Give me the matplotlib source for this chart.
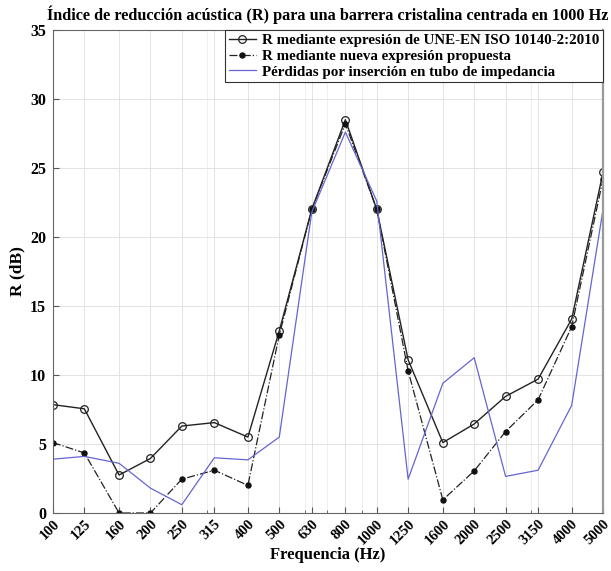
import matplotlib
matplotlib.use("Agg")
import matplotlib.pyplot as plt
from matplotlib.ticker import FixedLocator, LogLocator, NullFormatter

plt.rcParams['font.family'] = ['Liberation Serif', 'DejaVu Serif']
plt.rcParams['font.weight'] = 'bold'

freqs = [100, 125, 160, 200, 250, 315, 400, 500, 630, 800,
         1000, 1250, 1600, 2000, 2500, 3150, 4000, 5000]
freq_labels = [str(f) for f in freqs]

r_iso = [7.85, 7.55, 2.75, 3.95, 6.3, 6.55, 5.5, 13.2, 22.0, 28.5,
         22.0, 11.1, 5.1, 6.45, 8.45, 9.7, 14.05, 24.7]
r_new = [5.1, 4.35, 0.0, 0.0, 2.45, 3.1, 2.0, 12.9, 22.0, 28.2,
         22.0, 10.3, 0.95, 3.05, 5.9, 8.2, 13.5, 24.2]
il_tube = [3.9, 4.1, 3.6, 1.8, 0.6, 4.0, 3.85, 5.5, 21.8, 27.6,
           22.6, 2.45, 9.4, 11.25, 2.65, 3.1, 7.8, 22.0]

labels = ['R mediante expresión de UNE-EN ISO 10140-2:2010',
          'R mediante nueva expresión propuesta',
          'Pérdidas por inserción en tubo de impedancia']

fig = plt.figure(figsize=(6.11, 5.71), dpi=100)
ax = fig.add_axes([0.0867, 0.1016, 0.9003, 0.8459])

ax.plot(freqs, r_iso, '-', color='#222222', lw=1.0, marker='o',
        ms=5.5, mfc='none', mec='#222222', mew=0.9, label=labels[0])
ax.plot(freqs, r_new, '-.', color='#222222', lw=0.9, marker='o',
        ms=3.6, mfc='#111111', mec='#111111', label=labels[1])
ax.plot(freqs, il_tube, '-', color='#6565d2', lw=0.9, label=labels[2])

ax.set_xscale('log')
ax.set_xlim(100, 5000)
ax.set_ylim(0, 35)
ax.xaxis.set_major_locator(FixedLocator(freqs))
ax.set_xticklabels(freq_labels, rotation=45, ha='right', va='top',
                   rotation_mode='anchor', fontsize=10.5, fontweight='bold')
ax.xaxis.set_minor_locator(LogLocator(base=10, subs=range(2, 10)))
ax.xaxis.set_minor_formatter(NullFormatter())
ax.set_yticks(range(0, 36, 5))
for t in ax.get_yticklabels():
    t.set_fontsize(11.5)
    t.set_fontweight('bold')

ax.tick_params(axis='both', which='both', direction='in', color='#555555')
ax.tick_params(axis='x', which='major', length=4, pad=3)
ax.tick_params(axis='x', which='minor', length=2.5)
ax.tick_params(axis='y', length=4, pad=5)

ax.grid(True, which='major', color='#e3e3e3', lw=0.7)
ax.grid(True, which='minor', axis='x', color='#ececec', lw=0.6)
ax.set_axisbelow(True)
for s in ax.spines.values():
    s.set_color('#666666')
    s.set_linewidth(0.8)
ax.spines['right'].set_color('#9a9a9a')
ax.spines['right'].set_linewidth(1.6)

ax.set_xlabel('Frequencia (Hz)', fontsize=12, fontweight='bold', labelpad=0)
ax.set_ylabel('R (dB)', fontsize=12.5, fontweight='bold', labelpad=3)
ax.set_title('Índice de reducción acústica (R) para una barrera cristalina centrada en 1000 Hz',
             fontsize=11.7, fontweight='bold', pad=7)

leg = ax.legend(loc='upper right', frameon=True, fancybox=False,
                borderaxespad=0.0, handlelength=1.8, handletextpad=0.4,
                borderpad=0.25, labelspacing=0.15,
                prop={'weight': 'bold', 'size': 10.8})
leg.get_frame().set_edgecolor('#333333')
leg.get_frame().set_linewidth(0.8)
leg.get_frame().set_alpha(1.0)

fig.savefig('out.png', dpi=100)
